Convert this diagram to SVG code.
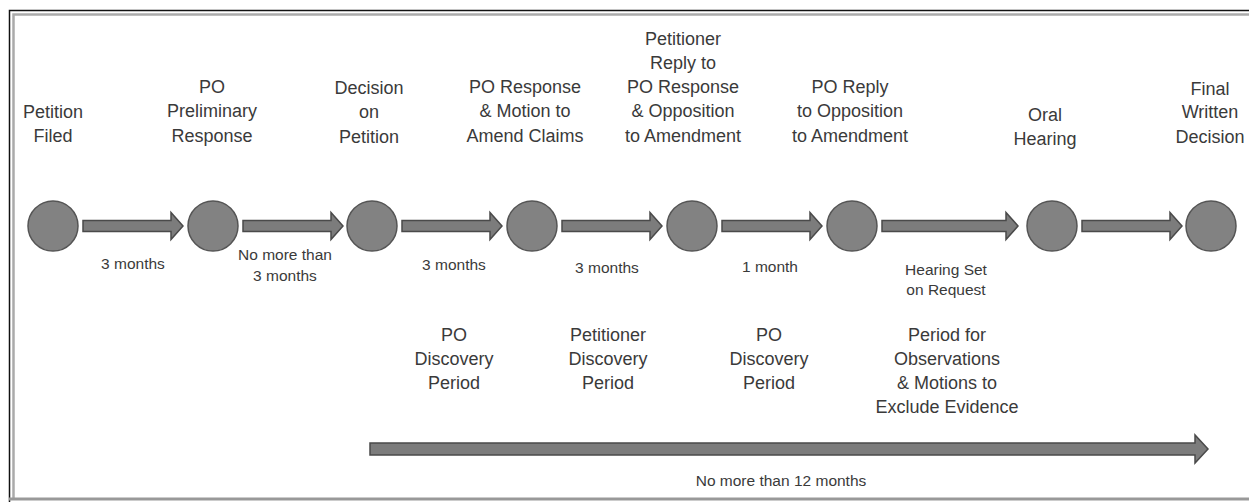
<svg xmlns="http://www.w3.org/2000/svg" width="1249" height="502" viewBox="0 0 1249 502">
<defs>
<style>
.t{font-family:"Liberation Sans",Arial,sans-serif;font-size:18px;fill:#3a3a3a;text-anchor:middle}
.s{font-family:"Liberation Sans",Arial,sans-serif;font-size:15.5px;fill:#3a3a3a;text-anchor:middle}
.n{fill:#828282;stroke:#555;stroke-width:1.5}
.a{fill:#7c7c7c;stroke:#4a4a4a;stroke-width:1.5;stroke-linejoin:miter}
</style>
</defs>
<rect width="1249" height="502" fill="#fff"/>
<g id="frame" fill="none">
<path d="M9.5,502 V10.5 H1249" stroke="#111" stroke-width="1.5"/>
<path d="M13.5,498 V14.5 H1249" stroke="#aaa" stroke-width="2.5"/>
<path d="M9,499 H1249" stroke="#999" stroke-width="3"/>
</g>
<g id="connectors">
<path class="a" d="M83,220.5 H171 V212.5 L183,226 L171,239.5 V231.5 H83 Z"/>
<path class="a" d="M243,220.5 H331 V212.5 L343,226 L331,239.5 V231.5 H243 Z"/>
<path class="a" d="M402,220.5 H490 V212.5 L502,226 L490,239.5 V231.5 H402 Z"/>
<path class="a" d="M562,220.5 H650 V212.5 L662,226 L650,239.5 V231.5 H562 Z"/>
<path class="a" d="M722,220.5 H810 V212.5 L822,226 L810,239.5 V231.5 H722 Z"/>
<path class="a" d="M882,220.5 H1006 V212.5 L1018,226 L1006,239.5 V231.5 H882 Z"/>
<path class="a" d="M1082,220.5 H1170 V212.5 L1182,226 L1170,239.5 V231.5 H1082 Z"/>
<path class="a" d="M370,443 H1195 V435 L1208,449 L1195,463 V455 H370 Z"/>
<text class="s" x="133" y="269">3 months</text>
<text class="s" x="285" y="260">No more than</text>
<text class="s" x="285" y="281">3 months</text>
<text class="s" x="454" y="270">3 months</text>
<text class="s" x="607" y="273">3 months</text>
<text class="s" x="770" y="272">1 month</text>
<text class="s" x="946" y="275">Hearing Set</text>
<text class="s" x="946" y="295">on Request</text>
<text class="s" x="781" y="486">No more than 12 months</text>
</g>
<g id="petition-filed">
<circle class="n" cx="53" cy="226" r="25"/>
<text class="t" x="53" y="118">Petition</text>
<text class="t" x="53" y="142">Filed</text>
</g>
<g id="po-preliminary-response">
<circle class="n" cx="213" cy="226" r="25"/>
<text class="t" x="212" y="93">PO</text>
<text class="t" x="212" y="117">Preliminary</text>
<text class="t" x="212" y="142">Response</text>
</g>
<g id="decision-on-petition">
<circle class="n" cx="372" cy="226" r="25"/>
<text class="t" x="369" y="94">Decision</text>
<text class="t" x="369" y="118">on</text>
<text class="t" x="369" y="143">Petition</text>
</g>
<g id="po-response">
<circle class="n" cx="532" cy="226" r="25"/>
<text class="t" x="525" y="93">PO Response</text>
<text class="t" x="525" y="117">&amp; Motion to</text>
<text class="t" x="525" y="142">Amend Claims</text>
</g>
<g id="petitioner-reply">
<circle class="n" cx="692" cy="226" r="25"/>
<text class="t" x="683" y="45">Petitioner</text>
<text class="t" x="683" y="69">Reply to</text>
<text class="t" x="683" y="93">PO Response</text>
<text class="t" x="683" y="117">&amp; Opposition</text>
<text class="t" x="683" y="142">to Amendment</text>
</g>
<g id="po-reply">
<circle class="n" cx="852" cy="226" r="25"/>
<text class="t" x="850" y="93">PO Reply</text>
<text class="t" x="850" y="117">to Opposition</text>
<text class="t" x="850" y="142">to Amendment</text>
</g>
<g id="oral-hearing">
<circle class="n" cx="1052" cy="226" r="25"/>
<text class="t" x="1045" y="121">Oral</text>
<text class="t" x="1045" y="145">Hearing</text>
</g>
<g id="final-written-decision">
<circle class="n" cx="1211" cy="226" r="25"/>
<text class="t" x="1210" y="95">Final</text>
<text class="t" x="1210" y="118">Written</text>
<text class="t" x="1210" y="143">Decision</text>
</g>
<g id="po-discovery-1">
<text class="t" x="454" y="341">PO</text>
<text class="t" x="454" y="365">Discovery</text>
<text class="t" x="454" y="389">Period</text>
</g>
<g id="petitioner-discovery">
<text class="t" x="608" y="341">Petitioner</text>
<text class="t" x="608" y="365">Discovery</text>
<text class="t" x="608" y="389">Period</text>
</g>
<g id="po-discovery-2">
<text class="t" x="769" y="341">PO</text>
<text class="t" x="769" y="365">Discovery</text>
<text class="t" x="769" y="389">Period</text>
</g>
<g id="observations-period">
<text class="t" x="947" y="341">Period for</text>
<text class="t" x="947" y="365">Observations</text>
<text class="t" x="947" y="389">&amp; Motions to</text>
<text class="t" x="947" y="413">Exclude Evidence</text>
</g>
</svg>
